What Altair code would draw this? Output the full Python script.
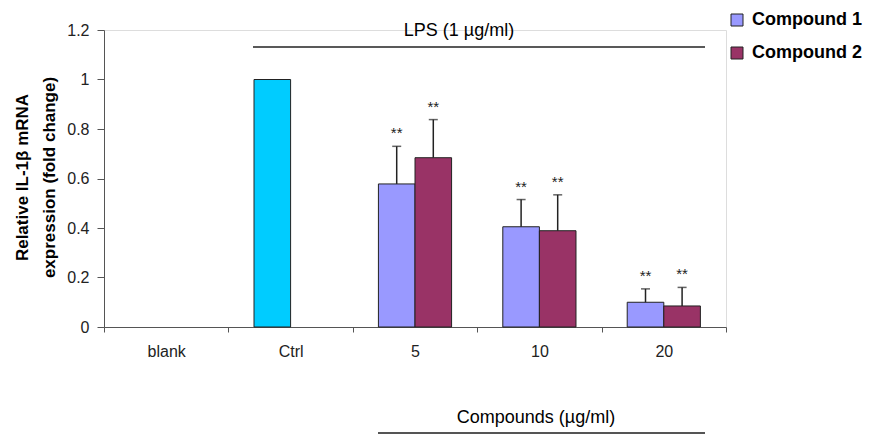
import altair as alt
import pandas as pd

# ---- data ----
categories = ["blank", "Ctrl", "5", "10", "20"]
series = ["Compound 1", "Compound 2"]
ctrl_value = 1.0
doses = ["5", "10", "20"]
compound1 = [0.578, 0.405, 0.100]
compound1_err = [0.152, 0.110, 0.054]
compound2 = [0.684, 0.389, 0.085]
compound2_err = [0.154, 0.145, 0.075]
significance = ["**", "**", "**"]
y_ticks = [0, 0.2, 0.4, 0.6, 0.8, 1.0, 1.2]
annotation_texts = ["LPS (1 \u00b5g/ml)", "Compounds (\u00b5g/ml)"]

colors = {"Compound 1": "#9999FF", "Compound 2": "#993366", "Ctrl": "#00CCFF"}

rows = [{"cat": "Ctrl", "slot": "Compound 1", "group": "Ctrl", "value": ctrl_value}]
for name, vals, errs in [("Compound 1", compound1, compound1_err),
                         ("Compound 2", compound2, compound2_err)]:
    for d, v, e, s in zip(doses, vals, errs, significance):
        rows.append({"cat": d, "slot": name, "group": name, "value": v,
                     "top": v + e, "sig": s})
df = pd.DataFrame(rows)
err_df = df.dropna(subset=["top"])

FONT = "Liberation Sans"

x_enc = alt.X("cat:N", sort=categories,
              scale=alt.Scale(domain=categories, paddingInner=0, paddingOuter=0),
              axis=alt.Axis(title=None, labelAngle=0, tickBand="extent",
                            tickSize=5, labelPadding=11, labelFontSize=16,
                            labelColor="#222", domainColor="#555",
                            tickColor="#555", labelFont=FONT))
xoff = alt.XOffset("slot:N", scale=alt.Scale(domain=series, paddingInner=0,
                                             paddingOuter=0.7))
y_scale = alt.Scale(domain=[0, 1.2], nice=False, zero=True)

bars = alt.Chart(df).mark_bar(stroke="#222", strokeWidth=1).encode(
    x=x_enc,
    xOffset=xoff,
    y=alt.Y("value:Q", scale=y_scale,
            axis=alt.Axis(values=y_ticks, format="~g", grid=False, tickSize=7,
                          labelPadding=8,
                          labelFontSize=16, labelColor="#222", labelFont=FONT,
                          domainColor="#555", tickColor="#555",
                          title=["Relative IL-1\u03b2  mRNA", "expression (fold change)"],
                          titleFont=FONT, titleFontSize=17, titleFontWeight="bold",
                          titleColor="#000", titleAngle=-90, titleAlign="center",
                          titleBaseline="top", titleX=-90, titleY=147,
                          titleLineHeight=27)),
    color=alt.Color("group:N",
                    scale=alt.Scale(domain=list(colors.keys()),
                                    range=list(colors.values())),
                    legend=alt.Legend(values=series, title=None, orient="none",
                                      legendX=624, legendY=-19, padding=0,
                                      symbolType="square", symbolSize=144,
                                      symbolStrokeColor="#222",
                                      symbolStrokeWidth=1, symbolOpacity=1,
                                      labelFontSize=18, labelFontWeight="bold",
                                      labelFont=FONT, labelColor="#000",
                                      labelOffset=6, rowPadding=15)),
)

err_rule = alt.Chart(err_df).mark_rule(color="#222", strokeWidth=1.5).encode(
    x=alt.X("cat:N", sort=categories), xOffset=xoff,
    y=alt.Y("value:Q", scale=y_scale), y2="top:Q")

err_cap = alt.Chart(err_df).mark_tick(color="#222", thickness=1.5, size=9).encode(
    x=alt.X("cat:N", sort=categories), xOffset=xoff,
    y=alt.Y("top:Q", scale=y_scale))

stars = alt.Chart(err_df).mark_text(fontSize=15, dy=-13, font=FONT,
                                    color="#222").encode(
    x=alt.X("cat:N", sort=categories), xOffset=xoff,
    y=alt.Y("top:Q", scale=y_scale), text="sig:N")

ann = pd.DataFrame({"label": annotation_texts})

lps_line = alt.Chart(ann.iloc[[0]]).mark_rule(color="#222", strokeWidth=1.5).encode(
    x=alt.value(149), x2=alt.value(601), y=alt.value(17))
lps_text = alt.Chart(ann.iloc[[0]]).mark_text(fontSize=18, font=FONT,
                                              color="#000").encode(
    x=alt.value(355), y=alt.value(1), text="label:N")
cmp_line = alt.Chart(ann.iloc[[1]]).mark_rule(color="#555", strokeWidth=2).encode(
    x=alt.value(274), x2=alt.value(601), y=alt.value(403))
cmp_text = alt.Chart(ann.iloc[[1]]).mark_text(fontSize=18, font=FONT,
                                              color="#000").encode(
    x=alt.value(432), y=alt.value(388), text="label:N")

chart = alt.layer(bars, err_rule, err_cap, stars,
                  lps_line, lps_text, cmp_line, cmp_text).properties(
    width=622, height=297,
    autosize=alt.AutoSizeParams(type="none"),
    padding={"left": 96, "top": 22, "right": 140, "bottom": 108},
).configure_view(stroke=None).configure(font=FONT)

chart.save("out.html", embed_options={"renderer": "svg", "actions": False})
